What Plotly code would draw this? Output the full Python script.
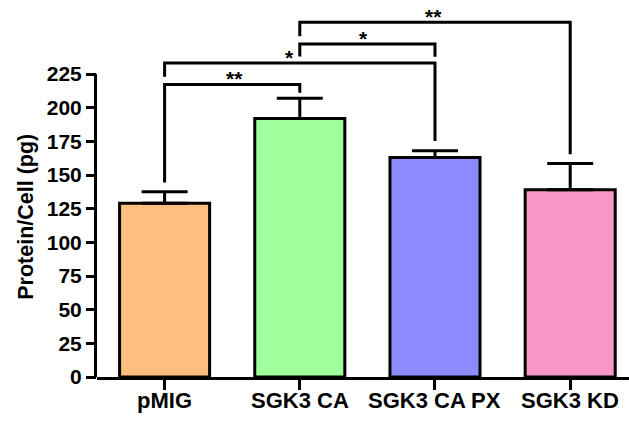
import plotly.graph_objects as go

categories = ["pMIG", "SGK3 CA", "SGK3 CA PX", "SGK3 KD"]
means = [129, 192, 163, 139]
errors = [8.5, 15, 5, 19.5]
bar_colors = ["#FFBE7E", "#A0FF9C", "#8C8CFF", "#F896C8"]
y_ticks = [0, 25, 50, 75, 100, 125, 150, 175, 200, 225]

# significance brackets: (left idx, right idx)
bracket_pairs = [(0, 1), (0, 2), (1, 2), (1, 3)]
bracket_top = [217.3, 233.3, 247.4, 263.4]
bracket_left_end = [144.4, 223.0, 238.0, 253.0]
bracket_right_end = [211.1, 175.3, 237.8, 165.4]
bracket_labels = ["**", "*", "*", "**"]
label_x = [0.52, 0.925, 1.47, 1.99]

FONT = "Liberation Sans, Arial, sans-serif"
xpos = list(range(len(categories)))

fig = go.Figure()
fig.add_trace(go.Bar(
    x=xpos, y=means, width=0.666,
    marker=dict(color=bar_colors, line=dict(color="black", width=3)),
    error_y=dict(type="data", array=errors, arrayminus=[0] * len(errors),
                 symmetric=False, color="black", thickness=3, width=23),
    showlegend=False, hoverinfo="skip",
))

shapes = []
for (a, b), top, le, re in zip(bracket_pairs, bracket_top, bracket_left_end, bracket_right_end):
    shapes.append(dict(type="path", xref="x", yref="y",
                       path=f"M {a},{le} L {a},{top} L {b},{top} L {b},{re}",
                       line=dict(color="black", width=3)))
# y axis line only up to 225
shapes.append(dict(type="line", xref="paper", yref="y", x0=-0.0028, x1=-0.0028,
                   y0=0, y1=225, line=dict(color="black", width=3)))

annotations = []
for lx, top, lab in zip(label_x, bracket_top, bracket_labels):
    annotations.append(dict(x=lx, y=top, xref="x", yref="y", text=lab, showarrow=False,
                            xanchor="center", yanchor="bottom", yshift=-8,
                            font=dict(family=FONT, size=21, color="black", weight="bold")))
# category labels
for xp, cat in zip(xpos, categories):
    annotations.append(dict(x=xp, y=0, xref="x", yref="y", text=cat, showarrow=False,
                            xanchor="center", yanchor="middle", yshift=-23,
                            font=dict(family=FONT, size=22, color="black", weight="bold")))
annotations.append(dict(x=-0.1335, y=0.425, xref="paper", yref="paper",
                        text="Protein/Cell (pg)", textangle=-90, showarrow=False,
                        xanchor="center", yanchor="middle",
                        font=dict(family=FONT, size=21.5, color="black", weight="bold")))

fig.update_layout(
    width=629, height=421,
    margin=dict(l=97, r=0, t=0, b=44),
    plot_bgcolor="white", paper_bgcolor="white",
    shapes=shapes, annotations=annotations,
    xaxis=dict(range=[-0.5, 3.435], tickvals=xpos, showticklabels=False,
               showline=True, linecolor="black", linewidth=3,
               ticks="outside", ticklen=10, tickwidth=3, tickcolor="black",
               showgrid=False, zeroline=False),
    yaxis=dict(range=[0, 280], tickvals=y_ticks, showline=False,
               ticks="outside", ticklen=10, tickwidth=3, tickcolor="black",
               showgrid=False, zeroline=False,
               tickfont=dict(family=FONT, size=21, color="black", weight="bold")),
)

fig.write_html("out.html", config={"displayModeBar": False},
               post_script="document.body.style.margin='0';document.body.style.overflow='hidden';")
